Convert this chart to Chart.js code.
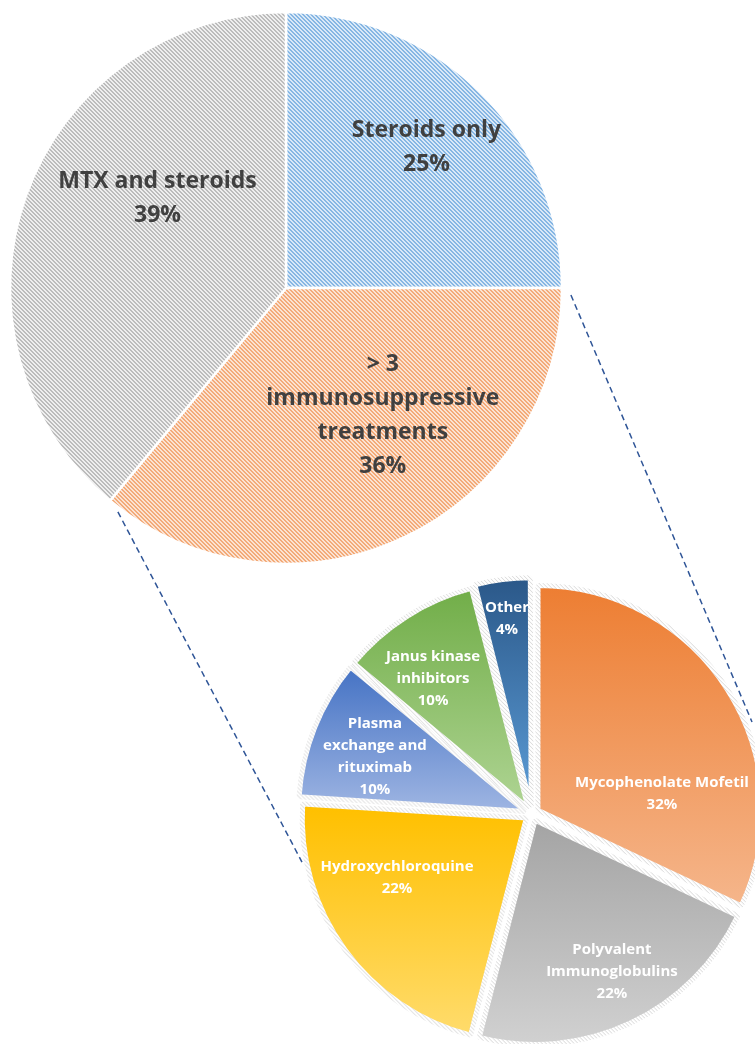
<!DOCTYPE html>
<html><head><meta charset="utf-8">
<script src="https://cdn.jsdelivr.net/npm/chart.js@4/dist/chart.umd.min.js"></script>
<style>
html,body{margin:0;padding:0;background:#fff;overflow:hidden;}
#page{position:relative;width:755px;height:1044px;overflow:hidden;background:#fff;}
#bigWrap{position:absolute;left:0;top:0;width:572px;height:576px;}
#smallWrap{position:absolute;left:282px;top:564px;width:500px;height:500px;}
#overlay{position:absolute;left:0;top:0;pointer-events:none;}
</style></head><body>
<div id="page">
<div id="bigWrap"><canvas id="big" width="572" height="576"></canvas></div>
<div id="smallWrap"><canvas id="small" width="500" height="500"></canvas></div>
<canvas id="overlay" width="755" height="1044"></canvas>
</div>
<script>
// ---- data ----
const mainCategories = ["Steroids only", "> 3 immunosuppressive treatments", "MTX and steroids"];
const mainLabelLines = [["Steroids only"], ["> 3", "immunosuppressive", "treatments"], ["MTX and steroids"]];
const mainValues = [25, 36, 39];

const subCategories = ["Mycophenolate Mofetil", "Polyvalent Immunoglobulins", "Hydroxychloroquine",
  "Plasma exchange and rituximab", "Janus kinase inhibitors", "Other"];
const subLabelLines = [["Mycophenolate Mofetil"], ["Polyvalent", "Immunoglobulins"], ["Hydroxychloroquine"],
  ["Plasma", "exchange and", "rituximab"], ["Janus kinase", "inhibitors"], ["Other"]];
const subValues = [32, 22, 22, 10, 10, 4];

// ---- styles ----
const mainPlace = [{r: 0.72, da: 0}, {r: 0.58, da: -12}, {r: 0.567, da: 15}];
const subPlace = [{r: 0.587, da: 23.65}, {r: 0.79, da: -1.65}, {r: 0.667, da: 10.6}, {r: 0.746, da: -1.64}, {r: 0.747, da: -3.85}, {r: 0.878, da: -0.1}];
const subTop = ["#ed7d31", "#a5a5a5", "#ffc000", "#4472c4", "#70ad47", "#2a5788"];
const subBottom = ["#f5b58a", "#d2d2d2", "#ffdc6e", "#9db4e2", "#add391", "#5b9bd5"];

function hatch(bg, fg, size, thick) {
  const c = document.createElement('canvas'); c.width = c.height = size;
  const x = c.getContext('2d'); x.fillStyle = bg; x.fillRect(0, 0, size, size);
  x.fillStyle = fg;
  for (let i = 0; i < size; i++) for (let t = 0; t < thick; t++) x.fillRect((i + t) % size, i, 1, 1);
  return x.createPattern(c, 'repeat');
}

const gradientPlugin = {
  id: 'sliceGradients',
  beforeDatasetsDraw(chart, args, opts) {
    if (!opts || !opts.top) return;
    const meta = chart.getDatasetMeta(0);
    meta.data.forEach((el, i) => {
      const {y, startAngle, endAngle, outerRadius} = el;
      const mid = (startAngle + endAngle) / 2;
      const sh = (el.options.offset || 0) / 4;
      const cy = y + Math.sin(mid) * sh;
      let minY = cy, maxY = cy;
      for (let k = 0; k <= 60; k++) {
        const a = startAngle + (endAngle - startAngle) * k / 60;
        const py = cy + Math.sin(a) * outerRadius;
        minY = Math.min(minY, py); maxY = Math.max(maxY, py);
      }
      const g = chart.ctx.createLinearGradient(0, minY, 0, maxY);
      g.addColorStop(0, opts.top[i]); g.addColorStop(1, opts.bottom[i]);
      el.options = Object.assign({}, el.options, {backgroundColor: g});
    });
  }
};

const labelPlugin = {
  id: 'sliceLabels',
  afterDatasetsDraw(chart, args, o) {
    const ctx = chart.ctx; const meta = chart.getDatasetMeta(0);
    const vals = chart.data.datasets[0].data; const total = vals.reduce((a, b) => a + b, 0);
    ctx.save(); ctx.font = o.font; ctx.fillStyle = o.color; ctx.textAlign = 'center'; ctx.textBaseline = 'middle';
    meta.data.forEach((el, i) => {
      const p = o.place[i];
      const a = (el.startAngle + el.endAngle) / 2 + p.da * Math.PI / 180;
      const d = el.outerRadius * p.r;
      const cx = el.x + Math.cos(a) * d, cy = el.y + Math.sin(a) * d;
      const lines = o.lines[i].concat([Math.round(vals[i] / total * 100) + '%']);
      lines.forEach((t, k) => ctx.fillText(t, cx, cy + (k - (lines.length - 1) / 2) * o.lineHeight));
    });
    ctx.restore();
  }
};

const bigChart = new Chart(document.getElementById('big'), {
  type: 'pie',
  data: {labels: mainCategories, datasets: [{
    data: mainValues,
    backgroundColor: [hatch('#dae9f7', '#86b6e3', 4, 2), hatch('#fbe3d3', '#f3aa78', 4, 2), hatch('#efefef', '#bcbcbc', 4, 2)],
    borderColor: '#ffffff', borderWidth: 2.5
  }]},
  options: {
    responsive: false, animation: false, radius: 276, events: [],
    layout: {padding: 0},
    plugins: {legend: {display: false}, tooltip: {enabled: false},
      sliceLabels: {font: 'bold 23px "Open Sans"', color: '#404040', lineHeight: 34, lines: mainLabelLines, place: mainPlace}}
  },
  plugins: [labelPlugin]
});

const smallChart = new Chart(document.getElementById('small'), {
  type: 'pie',
  data: {labels: subCategories, datasets: [{
    data: subValues,
    backgroundColor: subTop,
    borderColor: hatch('#ffffff', '#d8d8d8', 4, 1), borderWidth: 5, offset: 28
  }]},
  options: {
    responsive: false, animation: false, radius: 224, events: [],
    layout: {padding: 0},
    plugins: {legend: {display: false}, tooltip: {enabled: false},
      sliceGradients: {top: subTop, bottom: subBottom},
      sliceLabels: {font: 'bold 15px "Open Sans"', color: '#ffffff', lineHeight: 22, lines: subLabelLines, place: subPlace}}
  },
  plugins: [gradientPlugin, labelPlugin]
});

// ---- connector lines ----
const connectors = [
  {slice: 1, edge: 'startAngle', dDeg: 1.4, extra: 9, toDeg: 67.3, toExtra: 14.5},
  {slice: 1, edge: 'endAngle', dDeg: -2.7, extra: 4, toDeg: 258.2, toExtra: 11}
];
(function drawConnectors() {
  const ov = document.getElementById('overlay').getContext('2d');
  const bw = document.getElementById('bigWrap'), sw = document.getElementById('smallWrap');
  const bEl = bigChart.getDatasetMeta(0).data, sEl = smallChart.getDatasetMeta(0).data[0];
  ov.save(); ov.strokeStyle = '#2f5597'; ov.lineWidth = 1.5; ov.setLineDash([6, 4]);
  connectors.forEach(c => {
    const el = bEl[c.slice];
    const a1 = el[c.edge] + c.dDeg * Math.PI / 180;
    const x1 = bw.offsetLeft + el.x + Math.cos(a1) * (el.outerRadius + c.extra);
    const y1 = bw.offsetTop + el.y + Math.sin(a1) * (el.outerRadius + c.extra);
    const a2 = (c.toDeg - 90) * Math.PI / 180;
    const x2 = sw.offsetLeft + sEl.x + Math.cos(a2) * (sEl.outerRadius + c.toExtra);
    const y2 = sw.offsetTop + sEl.y + Math.sin(a2) * (sEl.outerRadius + c.toExtra);
    ov.beginPath(); ov.moveTo(x1, y1); ov.lineTo(x2, y2); ov.stroke();
  });
  ov.restore();
})();
</script>
</body></html>
